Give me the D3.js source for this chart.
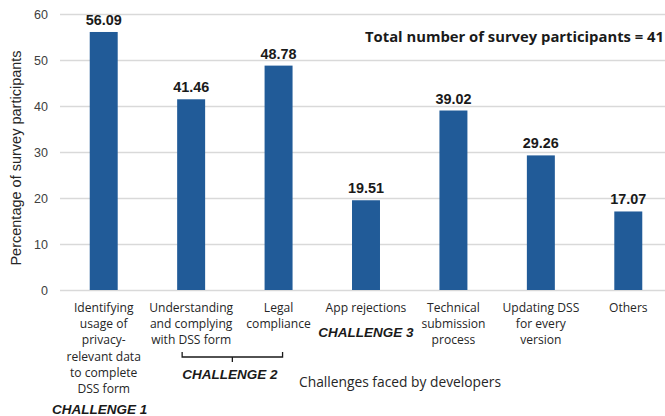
<!DOCTYPE html>
<html>
<head>
<meta charset="utf-8">
<script src="https://cdn.jsdelivr.net/npm/d3@7"></script>
<style>
  body { margin: 0; background: #fff; }
  svg { display: block; }
</style>
</head>
<body>
<script>
const categories = [
  ['Identifying', 'usage of', 'privacy-', 'relevant data', 'to complete', 'DSS form'],
  ['Understanding', 'and complying', 'with DSS form'],
  ['Legal', 'compliance'],
  ['App rejections'],
  ['Technical', 'submission', 'process'],
  ['Updating DSS', 'for every', 'version'],
  ['Others']
]
const values = [56.09, 41.46, 48.78, 19.51, 39.02, 29.26, 17.07]
const yTicks = [0, 10, 20, 30, 40, 50, 60]

const fullWidth = 665
const fullHeight = 416
const margin = { top: 14, right: -7, bottom: 126, left: 60 }
const barColor = '#215b98'
const catFont = '"Open Sans", "Noto Sans", sans-serif'
const numFont = '"Liberation Sans", Arial, sans-serif'

const svg = d3.select('body')
  .append('svg')
  .attr('width', fullWidth)
  .attr('height', fullHeight)

const x = d3.scaleBand()
  .domain(d3.range(categories.length))
  .range([margin.left, fullWidth - margin.right])
  .paddingInner(0.68)
  .paddingOuter(0.34)

const y = d3.scaleLinear()
  .domain([0, 60])
  .range([fullHeight - margin.bottom, margin.top])

// gridlines + y tick labels
const yAxis = d3.axisLeft(y)
  .tickValues(yTicks)
  .tickSize(-(fullWidth - margin.left))
  .tickPadding(12)

const gy = svg.append('g')
  .attr('transform', `translate(${margin.left},0)`)
  .call(yAxis)
gy.select('.domain').remove()
gy.selectAll('.tick line')
  .attr('stroke', '#d9d9d9')
  .attr('stroke-width', 1.3)
gy.selectAll('.tick text')
  .attr('fill', '#404040')
  .attr('font-family', numFont)
  .attr('font-size', 12.5)

svg.append('text')
  .attr('transform', `translate(21,158) rotate(-90)`)
  .attr('text-anchor', 'middle')
  .attr('fill', '#262626')
  .attr('font-family', numFont)
  .attr('font-size', 14.5)
  .text('Percentage of survey participants')

// bars
svg.selectAll('.bar')
  .data(values)
  .enter().append('rect')
  .attr('class', 'bar')
  .attr('x', (d, i) => x(i))
  .attr('width', x.bandwidth())
  .attr('y', d => y(d))
  .attr('height', d => y(0) - y(d))
  .attr('fill', barColor)

svg.selectAll('.val')
  .data(values)
  .enter().append('text')
  .attr('class', 'val')
  .attr('x', (d, i) => x(i) + x.bandwidth() / 2)
  .attr('y', d => y(d) - 7)
  .attr('text-anchor', 'middle')
  .attr('font-family', numFont)
  .attr('font-weight', 'bold')
  .attr('font-size', 14.4)
  .attr('fill', '#1a1a1a')
  .text(d => d.toFixed(2))

// category labels
const catG = svg.selectAll('.cat')
  .data(categories)
  .enter().append('text')
  .attr('class', 'cat')
  .attr('text-anchor', 'middle')
  .attr('font-family', catFont)
  .attr('font-size', 12.1)
  .attr('fill', '#262626')
  .attr('transform', (d, i) => `translate(${x(i) + x.bandwidth() / 2},${y(0) + 22})`)

catG.selectAll('tspan')
  .data(d => d)
  .enter().append('tspan')
  .attr('x', 0)
  .attr('y', (d, i) => i * 16.2)
  .text(d => d)

// challenge annotations
const chX = i => x(i) + x.bandwidth() / 2
const challenge = svg.append('g')
  .attr('font-family', numFont)
  .attr('font-weight', 'bold')
  .attr('font-style', 'italic')
  .attr('font-size', 13.5)
  .attr('fill', '#1a1a1a')
  .attr('text-anchor', 'middle')

challenge.append('text').attr('x', chX(0) - 4).attr('y', 414).text('CHALLENGE 1')
challenge.append('text').attr('x', (chX(1) + chX(2)) / 2 - 5).attr('y', 379).text('CHALLENGE 2')
challenge.append('text').attr('x', chX(3)).attr('y', 337).text('CHALLENGE 3')

// bracket under challenge 2
const bx0 = chX(1) - 9
const bx1 = chX(2) + 4
const bMid = (bx0 + bx1) / 2
svg.append('path')
  .attr('d', `M${bx0},352V357H${bx1}V352M${bMid},357V362`)
  .attr('fill', 'none')
  .attr('stroke', '#1a1a1a')
  .attr('stroke-width', 1.3)

svg.append('text')
  .attr('x', 400)
  .attr('y', 387)
  .attr('text-anchor', 'middle')
  .attr('font-family', catFont)
  .attr('font-size', 13.8)
  .attr('fill', '#262626')
  .text('Challenges faced by developers')

svg.append('text')
  .attr('x', 664)
  .attr('y', 42)
  .attr('text-anchor', 'end')
  .attr('font-family', catFont)
  .attr('font-weight', 'bold')
  .attr('font-size', 14.8)
  .attr('fill', '#1a1a1a')
  .text('Total number of survey participants = 41')
</script>
</body>
</html>
